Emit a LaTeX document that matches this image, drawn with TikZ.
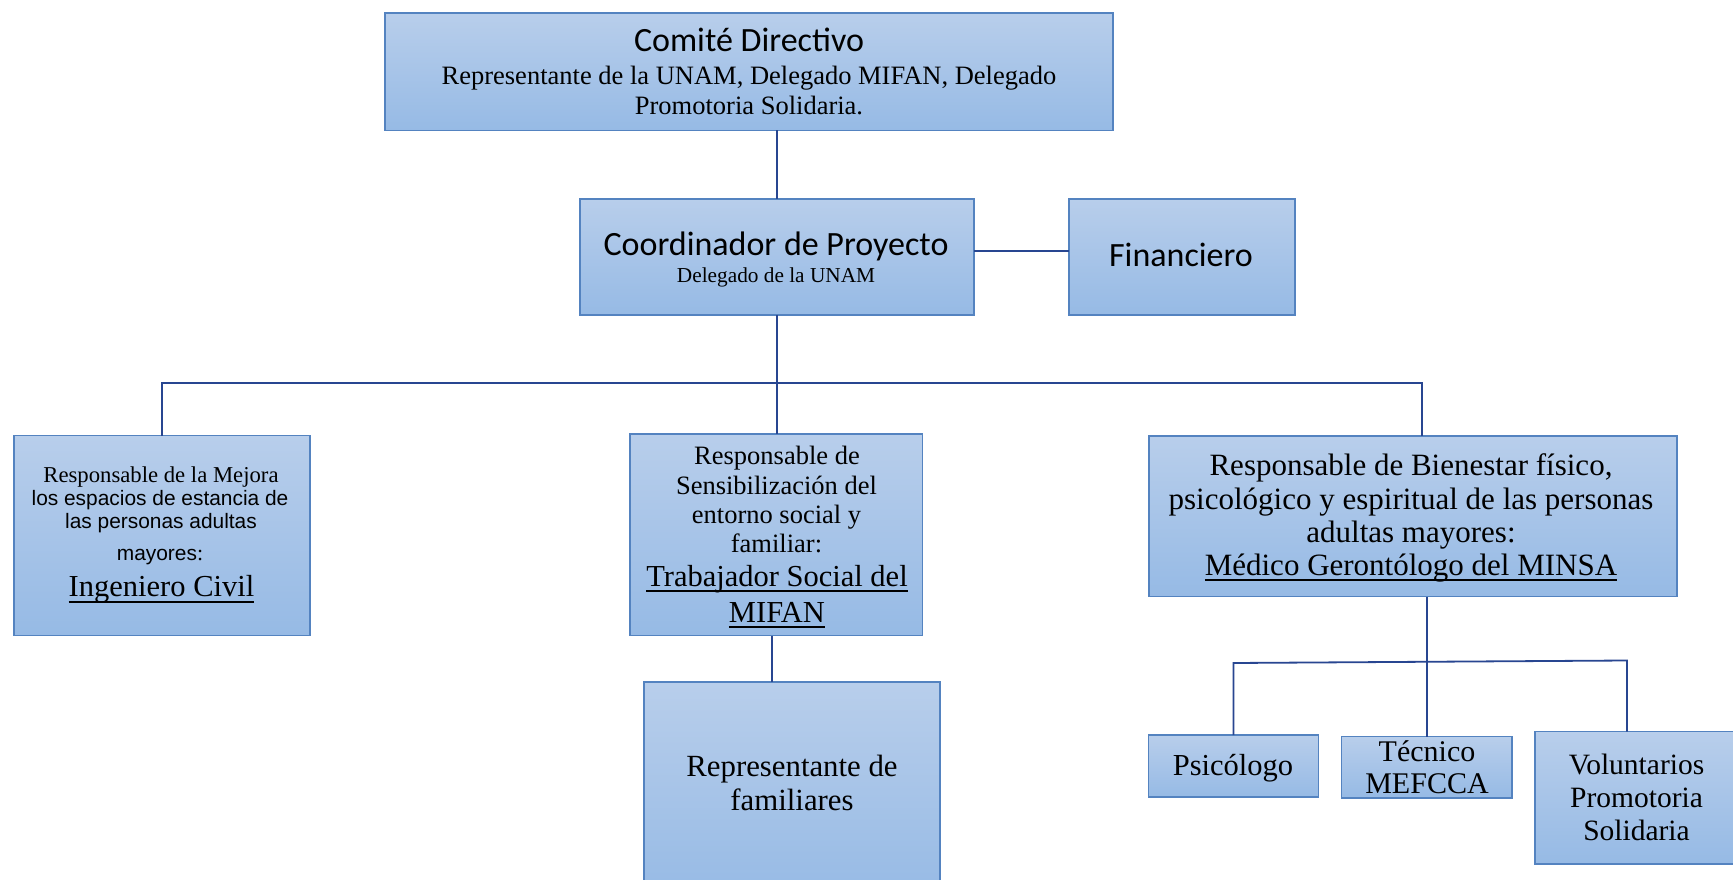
\documentclass[tikz,border=0pt]{standalone}
\usepackage{fontspec}
\setmainfont{Liberation Serif}
\newfontfamily\calfont{Carlito}
\newfontfamily\arifont{Liberation Sans}
\newcommand\fs[1]{\fontsize{#1}{#1}\selectfont}
\newcommand\myul[1]{\setbox0\hbox{#1}\rlap{\raisebox{-6pt}{\rule{\wd0}{1.6pt}}}\box0}
\definecolor{boxtop}{RGB}{184,206,235}
\definecolor{boxbot}{RGB}{150,186,229}
\definecolor{boxline}{RGB}{84,131,192}
\definecolor{conn}{RGB}{40,70,145}
\begin{document}
\begin{tikzpicture}[x=1pt,y=-1pt,
  orgbox/.style={draw=boxline, line width=1.4pt, top color=boxtop, bottom color=boxbot, inner sep=0pt, outer sep=0pt},
  txt/.style={anchor=base, inner sep=0pt, text=black},
  link/.style={draw=conn, line width=1.8pt}]
\useasboundingbox (0,0) rectangle (1733,880);
\clip (0,0) rectangle (1733,880);
\fill[white] (0,0) rectangle (1733,880);

% boxes
\node[orgbox, minimum width=728pt, minimum height=117.5pt] (com) at (749,71.75) {};
\node[orgbox, minimum width=394pt, minimum height=116pt] (coord) at (777,257) {};
\node[orgbox, minimum width=226pt, minimum height=116pt] (fin) at (1182,257) {};
\node[orgbox, minimum width=296pt, minimum height=200pt] (left) at (162,535.7) {};
\node[orgbox, minimum width=292.5pt, minimum height=201.7pt] (mid) at (776.25,534.85) {};
\node[orgbox, minimum width=528pt, minimum height=160.5pt] (rb) at (1413,516.25) {};
\node[orgbox, minimum width=296pt, minimum height=218pt] (rep) at (792,791) {};
\node[orgbox, minimum width=170pt, minimum height=62pt] (psi) at (1233.5,766) {};
\node[orgbox, minimum width=170.3pt, minimum height=61.3pt] (tec) at (1426.85,767.35) {};
\node[orgbox, minimum width=203pt, minimum height=132.3pt] (vol) at (1636.5,797.85) {};

% connectors
\coordinate (busL) at (162,383.3);
\coordinate (busR) at (1422,383.3);
\coordinate (rj) at (772,0);
\coordinate (sbL) at (1234,663);
\coordinate (sbR) at (1627,660.5);
\draw[link] (coord.north |- com.south) -- (coord.north);
\draw[link] ([yshift=6pt]coord.east) -- ([yshift=6pt]fin.west);
\draw[link] (left.north) -- (busL) -- (busR) -- (busR |- rb.north);
\draw[link] (coord.south) -- (coord.south |- mid.north);
\draw[link] (rj |- mid.south) -- (rj |- rep.north);
\draw[link] (tec.north |- rb.south) -- (tec.north);
\draw[link] (psi.north) -- (psi.north |- sbL) -- (sbR) -- (sbR |- vol.north);

% texts: Comite
\node[txt] (c1) at (749,52) {\calfont\fs{34}Comité Directivo};
\node[txt] (c2) at (749,85) {\fs{26.5}Representante de la UNAM, Delegado MIFAN, Delegado};
\node[txt] (c3) at (749,115) {\fs{26.5}Promotoria Solidaria.};
% Coordinador
\node[txt] (k1) at (776,255) {\calfont\fs{34}Coordinador de Proyecto};
\node[txt] (k2) at (776,282) {\fs{21.3}Delegado de la UNAM};
% Financiero
\node[txt] (f1) at (1181,266) {\calfont\fs{34}Financiero};
% left
\node[txt] (l1) at (161,482.7) {\fs{22.7}Responsable de la Mejora};
\node[txt] (l2) at (160,505.7) {\arifont\fs{20.9}los espacios de estancia de};
\node[txt] (l3) at (161,528.3) {\arifont\fs{20.9}las personas adultas};
\node[txt] (l4) at (160,560) {\arifont\fs{20.9}mayores{\rmfamily\fs{22}:}};
\node[txt] (l5) at (161.5,596.7) {\fs{30.5}\myul{Ingeniero Civil}};
% middle
\node[txt] (m1) at (777,464.3) {\fs{26.5}Responsable de};
\node[txt] (m2) at (776.5,494.3) {\fs{26.5}Sensibilización del};
\node[txt] (m3) at (776.5,523.3) {\fs{26.5}entorno social y};
\node[txt] (m4) at (776.5,552.7) {\fs{26.5}familiar:};
\node[txt] (m5) at (777,586) {\fs{30.5}\myul{Trabajador Social del}};
\node[txt] (m6) at (777,622) {\fs{30.5}\myul{MIFAN}};
% right
\node[txt] (r1) at (1411,475) {\fs{31}Responsable de Bienestar físico,};
\node[txt] (r2) at (1411,509) {\fs{31}psicológico y espiritual de las personas};
\node[txt] (r3) at (1411,542) {\fs{31}adultas mayores:};
\node[txt] (r4) at (1411,575) {\fs{31}\myul{Médico Gerontólogo del MINSA}};
% bottom
\node[txt] (p1) at (1233,775) {\fs{30.5}Psicólogo};
\node[txt] (e1) at (1427,761.7) {\fs{30}Técnico};
\node[txt] (e2) at (1427,793) {\fs{30}MEFCCA};
\node[txt] (v1) at (1636.5,774) {\fs{29.5}Voluntarios};
\node[txt] (v2) at (1636.5,807) {\fs{29.5}Promotoria};
\node[txt] (v3) at (1636.5,840.7) {\fs{29.5}Solidaria};
\node[txt] (q1) at (792,776.7) {\fs{30.8}Representante de};
\node[txt] (q2) at (792,810) {\fs{30.8}familiares};
\end{tikzpicture}
\end{document}
